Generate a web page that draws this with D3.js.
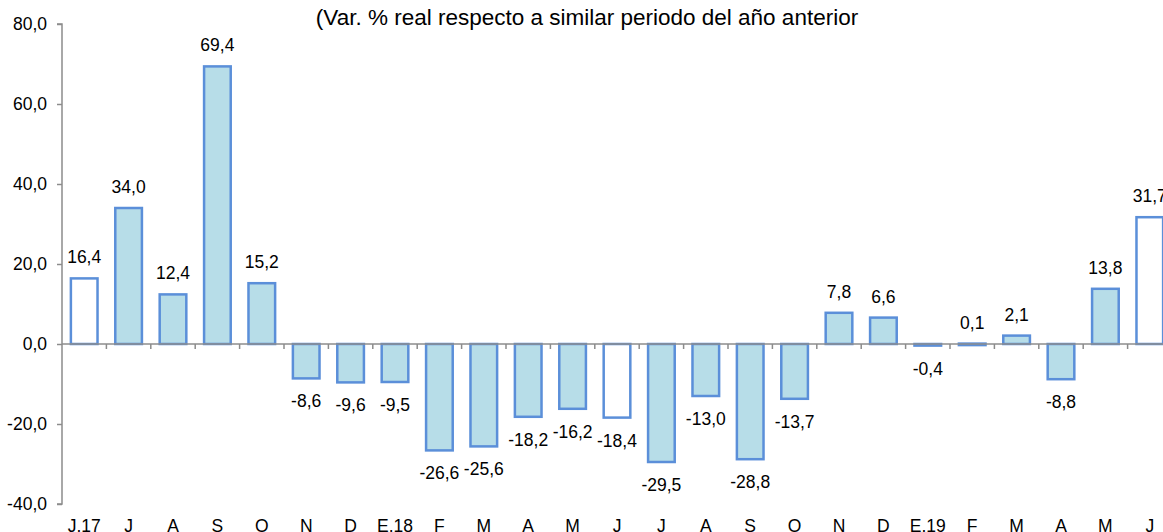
<!DOCTYPE html>
<html>
<head>
<meta charset="utf-8">
<script src="https://cdn.jsdelivr.net/npm/d3@7"></script>
<style>
  body { margin: 0; background: #fff; }
  text { font-family: "Liberation Sans", Arial, sans-serif; fill: #000; }
</style>
</head>
<body>
<svg width="1163" height="532"></svg>
<script>
const months = ["J.17","J","A","S","O","N","D","E.18","F","M","A","M","J","J","A","S","O","N","D","E.19","F","M","A","M","J"];
const values = [16.4,34.0,12.4,69.4,15.2,-8.6,-9.6,-9.5,-26.6,-25.6,-18.2,-16.2,-18.4,-29.5,-13.0,-28.8,-13.7,7.8,6.6,-0.4,0.1,2.1,-8.8,13.8,31.7];
const hollow = [0, 12, 24];   // bars drawn with white fill
const yTicks = [-40,-20,0,20,40,60,80];
const title = "(Var. % real respecto a similar periodo del año anterior";

const data = months.map((m, i) => ({ key: i, label: m, value: values[i] }));
const fmt = v => v.toFixed(1).replace(".", ",");

const svg = d3.select("svg");
const mLeft = 62, mRight = 1172, mTop = 24, mBottom = 504;
const fs = 17.5;

const x = d3.scaleBand()
  .domain(data.map(d => d.key))
  .range([mLeft, mRight])
  .paddingInner(0.4)
  .paddingOuter(0.2);

const y = d3.scaleLinear()
  .domain([-40, 80])
  .range([mBottom, mTop]);

// y axis
const yAxis = svg.append("g")
  .attr("transform", `translate(${mLeft},0)`)
  .call(d3.axisLeft(y).tickValues(yTicks).tickSize(5).tickFormat(fmt));
yAxis.select(".domain").attr("stroke", "#8c8c8c").attr("stroke-width", 1.5)
  .attr("d", `M-5,${y(80)}H0V${y(-40)}H-5`);
yAxis.selectAll(".tick line").attr("stroke", "#8c8c8c").attr("stroke-width", 1.5);
yAxis.selectAll(".tick text").attr("font-size", fs).attr("x", -15)
  .attr("font-family", "Liberation Sans, Arial, sans-serif");

// bars
svg.selectAll("rect.bar")
  .data(data)
  .enter()
  .append("rect")
  .attr("class", "bar")
  .attr("x", d => x(d.key))
  .attr("width", x.bandwidth())
  .attr("y", d => y(Math.max(0, d.value)))
  .attr("height", d => Math.max(1.5, Math.abs(y(d.value) - y(0))))
  .style("fill", d => hollow.includes(d.key) ? "#ffffff" : "#b7dde8")
  .style("stroke", "#5b8fd9")
  .style("stroke-width", "2.5px");

// zero line with category tick marks
const step = x.step();
svg.append("line")
  .attr("x1", mLeft).attr("x2", 1163)
  .attr("y1", y(0)).attr("y2", y(0))
  .attr("stroke", "#8c8c8c").attr("stroke-width", 1.5);
svg.selectAll("line.ctick")
  .data(d3.range(1, months.length + 1))
  .enter()
  .append("line")
  .attr("class", "ctick")
  .attr("x1", i => mLeft + i * step).attr("x2", i => mLeft + i * step)
  .attr("y1", y(0)).attr("y2", y(0) + 5)
  .attr("stroke", "#8c8c8c").attr("stroke-width", 1.5);

// value labels
svg.selectAll("text.val")
  .data(data)
  .enter()
  .append("text")
  .attr("class", "val")
  .attr("x", d => x(d.key) + x.bandwidth() / 2)
  .attr("y", d => d.value >= 0 ? y(d.value) - 15 : y(d.value) + 29)
  .attr("text-anchor", "middle")
  .attr("font-size", fs)
  .text(d => fmt(d.value));

// category labels
svg.selectAll("text.cat")
  .data(data)
  .enter()
  .append("text")
  .attr("class", "cat")
  .attr("x", d => x(d.key) + x.bandwidth() / 2)
  .attr("y", 532)
  .attr("text-anchor", "middle")
  .attr("font-size", fs)
  .text(d => d.label);

svg.append("text")
  .attr("x", 587)
  .attr("y", 25)
  .attr("text-anchor", "middle")
  .attr("font-size", 22.5)
  .text(title);
</script>
</body>
</html>
